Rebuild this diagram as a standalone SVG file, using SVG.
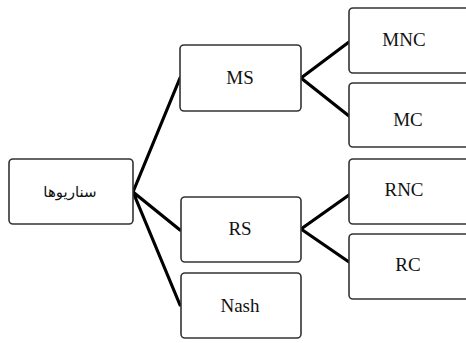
<svg xmlns="http://www.w3.org/2000/svg" width="466" height="343" viewBox="0 0 466 343">
<style>
.box{fill:#fff;stroke:#333;stroke-width:1.6}
.t{font-family:"Liberation Serif","Times New Roman",serif;font-size:19px;fill:#111;text-anchor:middle}
.ar{font-family:"DejaVu Sans","Noto Sans",sans-serif;font-size:15px;fill:#111;text-anchor:middle}
.c{stroke:#000;stroke-width:3.2;fill:none;stroke-linecap:round}
</style>
<rect width="466" height="343" fill="#fff"/>
<g id="connectors">
<path class="c" d="M133 192 L180 78 M133 192 L180 230 M133 192 L180 305"/>
<path class="c" d="M301 78 L349 42 M301 78 L349 116"/>
<path class="c" d="M301 229 L349 195 M301 229 L349 262"/>
</g>
<g id="root"><rect class="box" x="9" y="159" width="124" height="65" rx="4"/><text class="ar" x="70" y="197" direction="rtl">سناریوها</text></g>
<g id="ms"><rect class="box" x="180" y="45" width="121" height="66" rx="4"/><text class="t" x="240" y="84">MS</text></g>
<g id="rs"><rect class="box" x="181" y="197" width="120" height="65" rx="4"/><text class="t" x="240" y="235">RS</text></g>
<g id="nash"><rect class="box" x="181" y="273" width="120" height="65" rx="4"/><text class="t" x="240" y="312">Nash</text></g>
<g id="mnc"><rect class="box" x="349" y="8" width="130" height="65" rx="4"/><text class="t" x="404" y="46">MNC</text></g>
<g id="mc"><rect class="box" x="349" y="83" width="130" height="64" rx="4"/><text class="t" x="408" y="126">MC</text></g>
<g id="rnc"><rect class="box" x="349" y="159" width="130" height="65" rx="4"/><text class="t" x="404" y="196">RNC</text></g>
<g id="rc"><rect class="box" x="349" y="234" width="130" height="65" rx="4"/><text class="t" x="408" y="271">RC</text></g>
</svg>
